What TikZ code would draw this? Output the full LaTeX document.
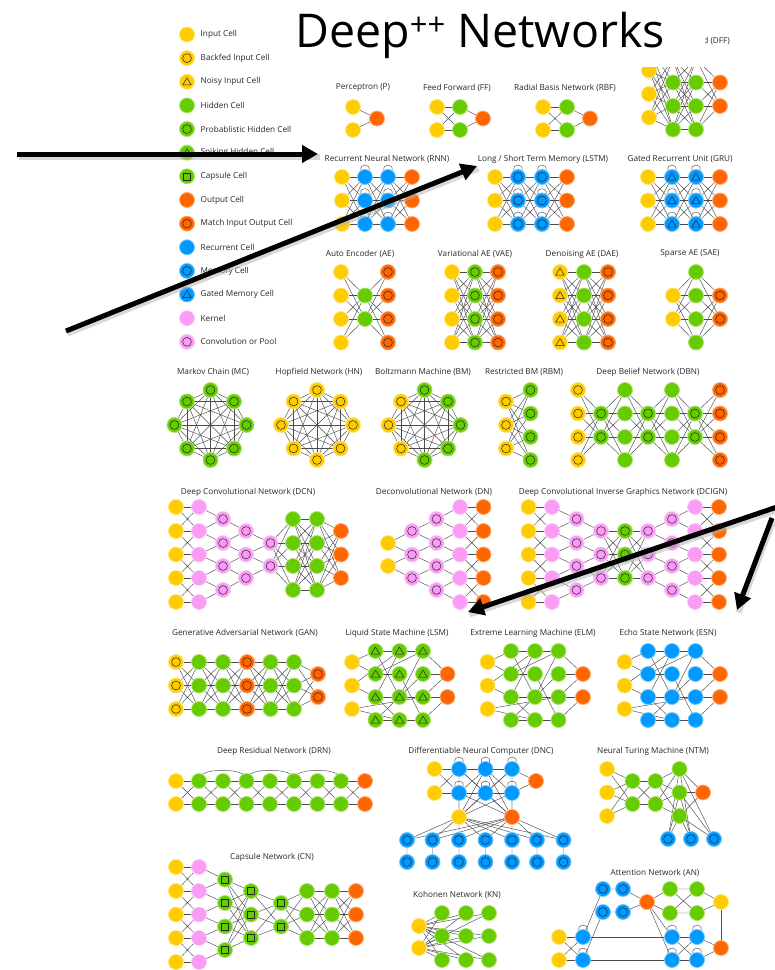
\documentclass[tikz,border=0pt]{standalone}
\usepackage{fontspec}
\setmainfont{Open Sans}
\usetikzlibrary{arrows.meta}

\pgfdeclarelayer{edges}
\pgfsetlayers{edges,main}

\definecolor{cinp}{HTML}{FFCC00}
\definecolor{chid}{HTML}{66CC00}
\definecolor{cout}{HTML}{FF6600}
\definecolor{crec}{HTML}{0099FF}
\definecolor{cker}{HTML}{FA9BF5}

\tikzset{
  cell/.style={circle, minimum size=15pt, inner sep=0pt, line width=0.8pt},
  mk/.style={line width=0.5pt, draw=black!85, line join=round},
  ring/.style={path picture={\draw[mk] (path picture bounding box.center) circle (4.4pt);}},
  tri/.style={path picture={\draw[mk] ([shift={(0pt,4pt)}]path picture bounding box.center)
      -- ([shift={(-4.3pt,-3.2pt)}]path picture bounding box.center)
      -- ([shift={(4.3pt,-3.2pt)}]path picture bounding box.center) -- cycle;}},
  sq/.style={path picture={\draw[mk] ([shift={(-3.5pt,-3.5pt)}]path picture bounding box.center)
      rectangle ([shift={(3.5pt,3.5pt)}]path picture bounding box.center);}},
  inp/.style={cell, fill=cinp, draw=cinp!55!white},
  bif/.style={inp, ring},
  nic/.style={inp, tri},
  hid/.style={cell, fill=chid, draw=chid!55!white},
  phc/.style={hid, ring},
  shc/.style={hid, tri},
  cpc/.style={hid, sq},
  outc/.style={cell, fill=cout, draw=cout!55!white},
  mio/.style={outc, ring},
  rec/.style={cell, fill=crec, draw=crec!55!white},
  mem/.style={rec, ring},
  gmc/.style={rec, tri},
  ker/.style={cell, fill=cker, draw=cker!55!white},
  cvp/.style={ker, ring},
  lk/.style={draw=black!70, line width=0.45pt},
  lbl/.style={font=\fontsize{8.2}{10}\selectfont, text=black!85, inner sep=0pt},
  bigarrow/.style={line width=5pt, -{Triangle[length=16pt,width=17pt]}},
  arrshadow/.style={line width=6pt, draw=black!30, opacity=0.5},
}

% a column of cells: name, style, x, list of y
\newcommand\cellcol[4]{\foreach \yy [count=\cc] in {#4}{\node[#2] (#1-\cc) at (#3,\yy) {};}}
% every cell of one column to every cell of the next
\newcommand\fullcon[4]{\begin{pgfonlayer}{edges}\foreach \i in {1,...,#2}{\foreach \j in {1,...,#4}{\draw[lk] (#1-\i) -- (#3-\j);}}\end{pgfonlayer}}
% smaller column #2 to neighbouring pairs of column #1
\newcommand\pairs[3]{\begin{pgfonlayer}{edges}\foreach \j in {1,...,#3}{\pgfmathtruncatemacro\jn{\j+1}\draw[lk] (#2-\j) -- (#1-\j) (#2-\j) -- (#1-\jn);}\end{pgfonlayer}}
% same size columns, straight and crossed
\newcommand\crosscon[3]{\begin{pgfonlayer}{edges}\foreach \i in {1,...,#3}{\draw[lk] (#1-\i) -- (#2-\i);}\foreach \i in {2,...,#3}{\pgfmathtruncatemacro\ip{\i-1}\draw[lk] (#1-\i) -- (#2-\ip) (#1-\ip) -- (#2-\i);}\end{pgfonlayer}}
% all pairs of a ring
\newcommand\complete[2]{\begin{pgfonlayer}{edges}\foreach \i in {1,...,#2}{\foreach \j in {1,...,#2}{\ifnum\i<\j\relax\draw[lk] (#1-\i) -- (#1-\j);\fi}}\end{pgfonlayer}}
% small loop on top of a cell
\newcommand\selfloop[1]{\draw[lk] (#1.122) .. controls +(-1.5pt,7pt) and +(1.5pt,7pt) .. (#1.58);}
% reservoir nets (LSM, ELM, ESN)
\newcommand\reservoir[3]{%
  \foreach \yy [count=\cc] in {662,685.5,709}{\node[inp] (#1-i\cc) at (#2,\yy) {};}
  \foreach \cl/\dx in {a/23.5,b/47.5,c/71}{\foreach \yy [count=\cc] in {651,674,697,720}{\node[#3] (#1-\cl\cc) at (#2+\dx,\yy) {};}}
  \foreach \yy [count=\cc] in {674,697}{\node[outc] (#1-o\cc) at (#2+95.5,\yy) {};}
  \begin{pgfonlayer}{edges}
  \foreach \p/\q in {i1/a1,i1/a2,i2/a3,i2/b1,i3/c3,i3/b4,a1/b1,b1/c1,a1/b3,b1/a3,a2/b2,a2/c1,b2/c4,a3/b3,b3/c3,a3/b4,a4/b4,b4/c4,a4/c2,b3/c1,c1/o1,c2/o1,c3/o1,c3/o2,c4/o2}{\draw[lk] (#1-\p) -- (#1-\q);}
  \end{pgfonlayer}}

\begin{document}
\begin{tikzpicture}[x=1pt, y=-1pt]
  \useasboundingbox (0,0) rectangle (775,970);

  % legend
  \foreach \st/\tx [count=\gg] in {inp/Input Cell, bif/Backfed Input Cell, nic/Noisy Input Cell, hid/Hidden Cell, phc/Probablistic Hidden Cell, shc/Spiking Hidden Cell, cpc/Capsule Cell, outc/Output Cell, mio/Match Input Output Cell, rec/Recurrent Cell, mem/Memory Cell, gmc/Gated Memory Cell, ker/Kernel, cvp/Convolution or Pool}{
    \node[\st] (key-\gg) at (187,{34.5+23.64*(\gg-1)}) {};
    \node[lbl, anchor=west] (keytxt-\gg) at (200.5,{34.5+23.64*(\gg-1)}) {\tx};
  }

  % perceptron, FF, RBF
  \node[lbl] (p-lbl) at (363,88) {Perceptron (P)};
  \cellcol{p-i}{inp}{353}{107,130}
  \cellcol{p-o}{outc}{377}{118.5}
  \fullcon{p-i}{2}{p-o}{1}
  \node[lbl] (ff-lbl) at (457,88) {Feed Forward (FF)};
  \cellcol{ff-i}{inp}{437}{107,130}
  \cellcol{ff-h}{hid}{460}{107,130}
  \cellcol{ff-o}{outc}{483}{118.5}
  \fullcon{ff-i}{2}{ff-h}{2}
  \fullcon{ff-h}{2}{ff-o}{1}
  \node[lbl] (rbf-lbl) at (565,88) {Radial Basis Network (RBF)};
  \cellcol{rbf-i}{inp}{543}{107,130}
  \cellcol{rbf-h}{hid}{567}{107,130}
  \cellcol{rbf-o}{outc}{590}{118.5}
  \fullcon{rbf-i}{2}{rbf-h}{2}
  \fullcon{rbf-h}{2}{rbf-o}{1}

  % DFF, partly under the title
  \node[lbl, anchor=east] (dff-lbl) at (730,41) {d (DFF)};
  \cellcol{dff-i}{inp}{649}{47,70.5,94,117.5}
  \cellcol{dff-a}{hid}{673}{59,82.5,106,129.5}
  \cellcol{dff-b}{hid}{696}{59,82.5,106,129.5}
  \cellcol{dff-o}{outc}{720}{82.5,106}
  \fullcon{dff-i}{4}{dff-a}{4}
  \fullcon{dff-a}{4}{dff-b}{4}
  \fullcon{dff-b}{4}{dff-o}{2}

  % title
  \fill[white] (290,0) rectangle (705,67);
  \node[anchor=base west, inner sep=0pt] (title) at (295,47.5)
    {\fontsize{46.5}{50}\selectfont Deep\raisebox{12.5pt}{\fontsize{31}{31}\selectfont ++} Networks};

  % RNN, LSTM, GRU
  \node[lbl] (rnn-lbl) at (387,159) {Recurrent Neural Network (RNN)};
  \cellcol{rnn-i}{inp}{342}{177,200.5,224}
  \cellcol{rnn-a}{rec}{365}{177,200.5,224}
  \cellcol{rnn-b}{rec}{388}{177,200.5,224}
  \cellcol{rnn-o}{outc}{412}{177,200.5,224}
  \node[lbl] (lstm-lbl) at (543,159) {Long / Short Term Memory (LSTM)};
  \cellcol{lstm-i}{inp}{495}{177,200.5,224}
  \cellcol{lstm-a}{mem}{518}{177,200.5,224}
  \cellcol{lstm-b}{mem}{542}{177,200.5,224}
  \cellcol{lstm-o}{outc}{567}{177,200.5,224}
  \node[lbl] (gru-lbl) at (680,159) {Gated Recurrent Unit (GRU)};
  \cellcol{gru-i}{inp}{648}{177,200.5,224}
  \cellcol{gru-a}{gmc}{672}{177,200.5,224}
  \cellcol{gru-b}{gmc}{696}{177,200.5,224}
  \cellcol{gru-o}{outc}{720}{177,200.5,224}
  \foreach \nn in {rnn,lstm,gru}{
    \fullcon{\nn-i}{3}{\nn-a}{3}
    \fullcon{\nn-a}{3}{\nn-b}{3}
    \fullcon{\nn-b}{3}{\nn-o}{3}
    \foreach \gg in {1,2,3}{\selfloop{\nn-a-\gg}\selfloop{\nn-b-\gg}}
  }

  % auto encoders
  \node[lbl] (ae-lbl) at (360,254) {Auto Encoder (AE)};
  \cellcol{ae-i}{inp}{341}{272,295.5,319,342.5}
  \cellcol{ae-h}{hid}{365}{295.5,319}
  \cellcol{ae-o}{mio}{388}{272,295.5,319,342.5}
  \fullcon{ae-i}{4}{ae-h}{2}
  \fullcon{ae-h}{2}{ae-o}{4}
  \node[lbl] (vae-lbl) at (475,254) {Variational AE (VAE)};
  \cellcol{vae-i}{inp}{452}{272,295.5,319,342.5}
  \cellcol{vae-h}{phc}{475}{272,295.5,319,342.5}
  \cellcol{vae-o}{mio}{498}{272,295.5,319,342.5}
  \fullcon{vae-i}{4}{vae-h}{4}
  \fullcon{vae-h}{4}{vae-o}{4}
  \node[lbl] (dae-lbl) at (582,254) {Denoising AE (DAE)};
  \cellcol{dae-i}{nic}{560}{272,295.5,319,342.5}
  \cellcol{dae-h}{hid}{584}{272,295.5,319,342.5}
  \cellcol{dae-o}{mio}{608}{272,295.5,319,342.5}
  \fullcon{dae-i}{4}{dae-h}{4}
  \fullcon{dae-h}{4}{dae-o}{4}
  \node[lbl] (sae-lbl) at (690,254) {Sparse AE (SAE)};
  \cellcol{sae-i}{inp}{673}{295.5,319}
  \cellcol{sae-h}{hid}{696}{272,295.5,319,342.5}
  \cellcol{sae-o}{mio}{720}{295.5,319}
  \fullcon{sae-i}{2}{sae-h}{4}
  \fullcon{sae-h}{4}{sae-o}{2}

  % MC, HN, BM
  \node[lbl] (mc-lbl) at (213,372) {Markov Chain (MC)};
  \foreach \dx/\dy [count=\gg] in {0/-35,23.5/-23.5,36/0,23.5/23.5,0/35,-23.5/23.5,-36/0,-23.5/-23.5}
    \node[phc] (mc-\gg) at (210.5+\dx,425+\dy) {};
  \complete{mc}{8}
  \node[lbl] (hn-lbl) at (319,372) {Hopfield Network (HN)};
  \foreach \dx/\dy [count=\gg] in {0/-35,23.5/-23.5,36/0,23.5/23.5,0/35,-23.5/23.5,-36/0,-23.5/-23.5}
    \node[bif] (hn-\gg) at (317+\dx,425+\dy) {};
  \complete{hn}{8}
  \node[lbl] (bm-lbl) at (423,372) {Boltzmann Machine (BM)};
  \foreach \dx/\dy/\st [count=\gg] in {0/-35/phc,23.5/-23.5/phc,36/0/phc,23.5/23.5/phc,0/35/phc,-23.5/23.5/bif,-36/0/bif,-23.5/-23.5/bif}
    \node[\st] (bm-\gg) at (424.5+\dx,425+\dy) {};
  \complete{bm}{8}

  % RBM, DBN
  \node[lbl] (rbm-lbl) at (524,372) {Restricted BM (RBM)};
  \cellcol{rbm-i}{bif}{506}{401.5,425,448.5}
  \cellcol{rbm-h}{phc}{530.5}{390,413.5,437,460}
  \fullcon{rbm-i}{3}{rbm-h}{4}
  \node[lbl] (dbn-lbl) at (648,372) {Deep Belief Network (DBN)};
  \cellcol{dbn-1}{bif}{578}{390,413.5,437,460}
  \cellcol{dbn-2}{phc}{601}{413.5,437}
  \cellcol{dbn-3}{hid}{625}{390,413.5,437,460}
  \cellcol{dbn-4}{phc}{648}{413.5,437}
  \cellcol{dbn-5}{hid}{672}{390,413.5,437,460}
  \cellcol{dbn-6}{phc}{695}{413.5,437}
  \cellcol{dbn-7}{mio}{720}{390,413.5,437,460}
  \foreach \aa/\bb in {1/2,3/4,5/6}{\fullcon{dbn-\aa}{4}{dbn-\bb}{2}}
  \foreach \aa/\bb in {2/3,4/5,6/7}{\fullcon{dbn-\aa}{2}{dbn-\bb}{4}}

  % DCN
  \node[lbl] (dcn-lbl) at (248,492) {Deep Convolutional Network (DCN)};
  \cellcol{dcn-i}{inp}{176}{507,531,554.5,578,602}
  \cellcol{dcn-k}{ker}{199}{507,531,554.5,578,602}
  \cellcol{dcn-c4}{cvp}{223}{519,543,566,590}
  \cellcol{dcn-c3}{cvp}{246}{531,554.5,578}
  \cellcol{dcn-c2}{cvp}{270.5}{543,566}
  \cellcol{dcn-g1}{hid}{293}{519,543,566,590}
  \cellcol{dcn-g2}{hid}{317}{519,543,566,590}
  \cellcol{dcn-o}{outc}{341}{531,554.5,578}
  \crosscon{dcn-i}{dcn-k}{5}
  \pairs{dcn-k}{dcn-c4}{4}
  \pairs{dcn-c4}{dcn-c3}{3}
  \pairs{dcn-c3}{dcn-c2}{2}
  \fullcon{dcn-c2}{2}{dcn-g1}{4}
  \fullcon{dcn-g1}{4}{dcn-g2}{4}
  \fullcon{dcn-g2}{4}{dcn-o}{3}

  % DN
  \node[lbl] (dn-lbl) at (434,492) {Deconvolutional Network (DN)};
  \cellcol{dn-i}{inp}{388}{543,566}
  \cellcol{dn-c3}{cvp}{412}{531,554.5,578}
  \cellcol{dn-c4}{cvp}{436.5}{519,543,566,590}
  \cellcol{dn-k}{ker}{460}{507,531,554.5,578,602}
  \cellcol{dn-o}{outc}{483.5}{507,531,554.5,578,602}
  \pairs{dn-c3}{dn-i}{2}
  \pairs{dn-c4}{dn-c3}{3}
  \pairs{dn-k}{dn-c4}{4}
  \crosscon{dn-k}{dn-o}{5}

  % DCIGN
  \node[lbl] (dg-lbl) at (623,492) {Deep Convolutional Inverse Graphics Network (DCIGN)};
  \cellcol{dg-i}{inp}{528.5}{507,531,554.5,578,602}
  \cellcol{dg-k}{ker}{552}{507,531,554.5,578,602}
  \cellcol{dg-c4}{cvp}{576.5}{519,543,566,590}
  \cellcol{dg-c3}{cvp}{601}{531,554.5,578}
  \cellcol{dg-g}{phc}{625}{531,554.5,578}
  \cellcol{dg-d3}{cvp}{648}{531,554.5,578}
  \cellcol{dg-d4}{cvp}{672}{519,543,566,590}
  \cellcol{dg-k2}{ker}{695}{507,531,554.5,578,602}
  \cellcol{dg-o}{outc}{719}{507,531,554.5,578,602}
  \crosscon{dg-i}{dg-k}{5}
  \pairs{dg-k}{dg-c4}{4}
  \pairs{dg-c4}{dg-c3}{3}
  \fullcon{dg-c3}{3}{dg-g}{3}
  \fullcon{dg-g}{3}{dg-d3}{3}
  \pairs{dg-d4}{dg-d3}{3}
  \pairs{dg-k2}{dg-d4}{4}
  \crosscon{dg-k2}{dg-o}{5}

  % GAN
  \node[lbl] (gan-lbl) at (245,633) {Generative Adversarial Network (GAN)};
  \cellcol{gan-1}{bif}{176}{662,685.5,709}
  \cellcol{gan-2}{hid}{199}{662,685.5,709}
  \cellcol{gan-3}{hid}{223}{662,685.5,709}
  \cellcol{gan-4}{mio}{247}{662,685.5,709}
  \cellcol{gan-5}{hid}{270.5}{662,685.5,709}
  \cellcol{gan-6}{hid}{294}{662,685.5,709}
  \cellcol{gan-7}{mio}{318}{674,697}
  \foreach \aa/\bb in {1/2,2/3,3/4,4/5,5/6}{\fullcon{gan-\aa}{3}{gan-\bb}{3}}
  \fullcon{gan-6}{3}{gan-7}{2}

  % LSM, ELM, ESN
  \node[lbl] (lsm-lbl) at (397,633) {Liquid State Machine (LSM)};
  \reservoir{lsm}{352}{shc}
  \node[lbl] (elm-lbl) at (533,633) {Extreme Learning Machine (ELM)};
  \reservoir{elm}{487.5}{hid}
  \node[lbl] (esn-lbl) at (668,633) {Echo State Network (ESN)};
  \reservoir{esn}{624.5}{rec}

  % DRN
  \node[lbl] (drn-lbl) at (274,751) {Deep Residual Network (DRN)};
  \cellcol{drn-0}{inp}{176}{781,804}
  \foreach \x [count=\gg] in {199,223,246.5,270,294,317.5,341}{\cellcol{drn-\gg}{hid}{\x}{781,804}}
  \cellcol{drn-8}{outc}{365}{781,804}
  \foreach \gg [evaluate=\gg as \pp using int(\gg-1)] in {1,...,8}{\fullcon{drn-\pp}{2}{drn-\gg}{2}}
  \foreach \aa/\bb in {1/3,3/5,5/7}
    \draw[lk] (drn-\aa-1.62) .. controls +(8pt,5pt) and +(-8pt,5pt) .. (drn-\bb-1.118);

  % DNC
  \node[lbl] (dnc-lbl) at (481,751) {Differentiable Neural Computer (DNC)};
  \cellcol{dnc-i}{inp}{434.5}{769,793}
  \cellcol{dnc-a}{rec}{459}{769,793}
  \cellcol{dnc-b}{rec}{485.5}{769,793}
  \cellcol{dnc-c}{rec}{512}{769,793}
  \cellcol{dnc-o}{outc}{536}{781}
  \node[inp] (dnc-rd) at (459,817) {};
  \node[outc] (dnc-wr) at (512,817) {};
  \foreach \x [count=\gg] in {407,432.5,459,485.5,512,537,563.5}{
    \node[mem] (dnc-m-\gg) at (\x,840) {};
    \node[mem] (dnc-n-\gg) at (\x,862) {};
  }
  \fullcon{dnc-i}{2}{dnc-a}{2}
  \fullcon{dnc-a}{2}{dnc-b}{2}
  \fullcon{dnc-b}{2}{dnc-c}{2}
  \fullcon{dnc-c}{2}{dnc-o}{1}
  \begin{pgfonlayer}{edges}
    \foreach \cl in {a,b,c}{\foreach \gg in {1,2}{\draw[lk] (dnc-\cl-\gg) -- (dnc-rd) (dnc-\cl-\gg) -- (dnc-wr);}}
    \foreach \gg in {1,...,7}{\draw[lk] (dnc-rd) -- (dnc-m-\gg) (dnc-wr) -- (dnc-m-\gg) (dnc-m-\gg) -- (dnc-n-\gg);}
  \end{pgfonlayer}
  \foreach \cl in {a,b,c}{\foreach \gg in {1,2}{\selfloop{dnc-\cl-\gg}}}

  % NTM
  \node[lbl] (ntm-lbl) at (653,751) {Neural Turing Machine (NTM)};
  \cellcol{ntm-i}{inp}{607}{769,792.5,816}
  \cellcol{ntm-a}{hid}{632.5}{781,804}
  \cellcol{ntm-b}{hid}{655.5}{781,804}
  \cellcol{ntm-c}{hid}{679.5}{769,792.5,816}
  \cellcol{ntm-o}{outc}{703}{792.5}
  \foreach \x [count=\gg] in {668,691,714}{\node[mem] (ntm-m-\gg) at (\x,839) {};}
  \fullcon{ntm-i}{3}{ntm-a}{2}
  \fullcon{ntm-a}{2}{ntm-b}{2}
  \fullcon{ntm-b}{2}{ntm-c}{3}
  \fullcon{ntm-c}{3}{ntm-o}{1}
  \fullcon{ntm-c}{3}{ntm-m}{3}

  % CN
  \node[lbl] (cn-lbl) at (272,857) {Capsule Network (CN)};
  \cellcol{cn-i}{inp}{176}{867,891,914.5,938,962}
  \cellcol{cn-k}{ker}{199}{867,891,914.5,938,962}
  \cellcol{cn-c4}{cpc}{225}{879.5,903,926.5,950}
  \cellcol{cn-c3}{cpc}{251}{891,914.5,938}
  \cellcol{cn-c2}{cpc}{281}{903,926.5}
  \cellcol{cn-g1}{hid}{307}{891,914.5,938}
  \cellcol{cn-g2}{hid}{332}{891,914.5,938}
  \cellcol{cn-o}{outc}{356}{891,914.5,938}
  \crosscon{cn-i}{cn-k}{5}
  \pairs{cn-k}{cn-c4}{4}
  \fullcon{cn-c4}{4}{cn-c3}{3}
  \fullcon{cn-c3}{3}{cn-c2}{2}
  \fullcon{cn-c2}{2}{cn-g1}{3}
  \fullcon{cn-g1}{3}{cn-g2}{3}
  \fullcon{cn-g2}{3}{cn-o}{3}

  % KN
  \node[lbl] (kn-lbl) at (457,895) {Kohonen Network (KN)};
  \cellcol{kn-i}{inp}{419}{926,948}
  \cellcol{kn-a}{hid}{442}{913,936,960}
  \cellcol{kn-b}{hid}{466}{913,936,960}
  \cellcol{kn-c}{hid}{489}{913,936,960}
  \foreach \cl in {a,b,c}{\fullcon{kn-i}{2}{kn-\cl}{3}}

  % AN
  \node[lbl] (an-lbl) at (655,873) {Attention Network (AN)};
  \node[mem] (an-m1a) at (603,889) {};
  \node[mem] (an-m1b) at (623,889) {};
  \node[mem] (an-m2a) at (603,912) {};
  \node[mem] (an-m2b) at (623,912) {};
  \node[outc] (an-o1) at (647,902) {};
  \node[hid] (an-g1a) at (670,889) {};
  \node[hid] (an-g1b) at (697,889) {};
  \node[hid] (an-g2a) at (670,913) {};
  \node[hid] (an-g2b) at (697,913) {};
  \node[inp] (an-y) at (721,902) {};
  \cellcol{an-i}{inp}{559}{937,960}
  \cellcol{an-r}{rec}{583}{937,960}
  \cellcol{an-s}{rec}{672}{937,960}
  \cellcol{an-t}{rec}{697}{937,960}
  \node[outc] (an-o2) at (721,948) {};
  \fullcon{an-i}{2}{an-r}{2}
  \fullcon{an-s}{2}{an-t}{2}
  \begin{pgfonlayer}{edges}
    \draw[lk] (an-r-1) -- (an-s-1) (an-r-2) -- (an-s-2);
    \draw[lk] (an-r-1) -- (an-m1a) (an-r-2) -- (an-m2a);
    \draw[lk] (an-m1a) -- (an-m1b) -- (an-o1) (an-m2a) -- (an-m2b) -- (an-o1);
    \draw[lk] (an-o1) -- (an-g1a) -- (an-g1b) -- (an-y) (an-o1) -- (an-g2a) -- (an-g2b) -- (an-y);
    \draw[lk] (an-g1a) -- (an-g2b) (an-g2a) -- (an-g1b);
    \draw[lk] (an-y) -- (an-o2);
    \draw[lk] (an-o1) -- (an-s-1) (an-o1) -- (an-s-2);
    \draw[lk] (an-t-1) -- (an-o2) (an-t-2) -- (an-o2);
  \end{pgfonlayer}
  \foreach \cl in {r,s,t}{\foreach \gg in {1,2}{\selfloop{an-\cl-\gg}}}

  % big arrows
  \coordinate (ar1-s) at (17,154);
  \coordinate (ar1-e) at (318,154);
  \coordinate (ar2-s) at (66,331);
  \coordinate (ar2-e) at (477,166);
  \coordinate (ar3-s) at (777,507);
  \coordinate (ar3-e) at (468,612);
  \coordinate (ar4-s) at (772,518);
  \coordinate (ar4-e) at (737,610);
  \foreach \aa in {1,2,3,4}{
    \draw[arrshadow] ([shift={(1.5pt,-2.5pt)}]ar\aa-s) -- ([shift={(1.5pt,-2.5pt)}]ar\aa-e);
    \draw[bigarrow] (ar\aa-s) -- (ar\aa-e);
  }
\end{tikzpicture}
\end{document}
